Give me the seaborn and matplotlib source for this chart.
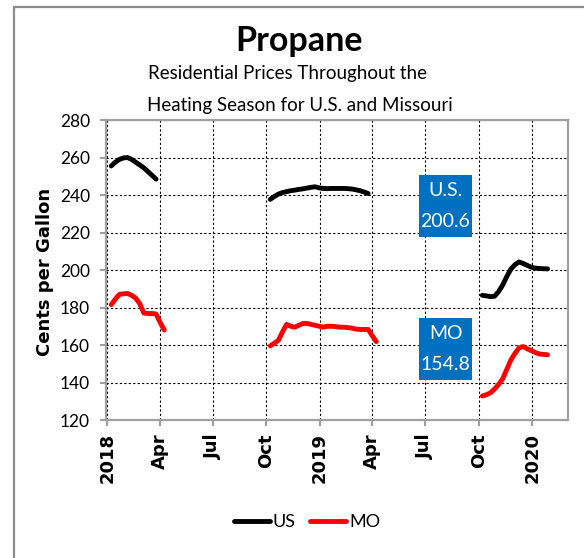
import pandas as pd
import numpy as np
import seaborn as sns
import matplotlib.pyplot as plt
from matplotlib.lines import Line2D
from matplotlib.patches import Rectangle

# weekly residential propane prices, cents per gallon
us_2018_dates = pd.date_range("2018-01-08", "2018-03-26", freq="7D")
us_2018 = [255.5, 257.5, 259.0, 259.8, 260.0, 259.0, 257.5, 256.0, 254.5, 252.5, 250.5, 248.5]
mo_2018_dates = pd.date_range("2018-01-08", "2018-04-09", freq="7D")
mo_2018 = [181.5, 184.5, 187.0, 187.3, 187.5, 186.5, 185.0, 182.0, 177.0, 176.8, 176.8, 176.5, 172.0, 168.0]

us_2019_dates = pd.date_range("2018-10-08", "2019-03-25", freq="7D")
us_2019 = [237.7, 239.2, 240.5, 241.3, 241.8, 242.3, 242.6, 243.0, 243.3, 243.7, 244.1, 244.4, 243.8,
           243.5, 243.4, 243.5, 243.5, 243.5, 243.5, 243.4, 243.2, 242.8, 242.3, 241.6, 240.8]
mo_2019_dates = pd.date_range("2018-10-08", "2019-04-08", freq="7D")
mo_2019 = [159.5, 161.0, 162.5, 167.0, 171.0, 170.0, 169.5, 170.5, 171.5, 171.5, 171.0, 170.5, 170.0, 169.5,
           170.0, 170.0, 169.8, 169.5, 169.5, 169.3, 169.0, 168.5, 168.3, 168.3, 168.3, 165.0, 161.8]

us_2020_dates = pd.date_range("2019-10-07", "2020-01-27", freq="7D")
us_2020 = [186.5, 186.2, 185.8, 186.0, 188.5, 192.0, 196.5, 200.5, 202.8, 204.3, 203.5, 202.5, 201.5,
           201.0, 200.8, 200.7, 200.6]
mo_2020_dates = pd.date_range("2019-10-07", "2020-01-27", freq="7D")
mo_2020 = [132.8, 133.5, 134.5, 136.5, 139.0, 142.0, 147.0, 152.0, 155.5, 158.5, 159.2, 158.0, 157.0,
           156.0, 155.2, 155.0, 154.8]

tick_dates = pd.to_datetime(["2018-01-01", "2018-04-01", "2018-07-01", "2018-10-01", "2019-01-01",
                             "2019-04-01", "2019-07-01", "2019-10-01", "2020-01-01"])
tick_labels = ["2018", "Apr", "Jul", "Oct", "2019", "Apr", "Jul", "Oct", "2020"]
us_latest = 200.6
mo_latest = 154.8

frames = []
for series, season, dates, vals in [
    ("US", 1, us_2018_dates, us_2018), ("MO", 1, mo_2018_dates, mo_2018),
    ("US", 2, us_2019_dates, us_2019), ("MO", 2, mo_2019_dates, mo_2019),
    ("US", 3, us_2020_dates, us_2020), ("MO", 3, mo_2020_dates, mo_2020),
]:
    frames.append(pd.DataFrame({"Date": dates, "Price": vals, "Series": series, "Season": season}))
df = pd.concat(frames, ignore_index=True)

sns.set_style("white")
plt.rcParams["text.color"] = "black"
plt.rcParams["xtick.color"] = "black"
plt.rcParams["ytick.color"] = "black"
plt.rcParams["axes.labelcolor"] = "black"
calib = ["Lato", "DejaVu Sans"]
grey = "#a0a0a0"

fig = plt.figure(figsize=(5.84, 5.58), dpi=100)
ax = fig.add_axes([0.1815, 0.2473, 0.791, 0.5376])

sns.lineplot(data=df, x="Date", y="Price", hue="Series", units="Season", estimator=None,
             hue_order=["US", "MO"], palette={"US": "black", "MO": "red"},
             linewidth=3.5, ax=ax)

ax.set_xlim(pd.Timestamp("2017-12-30"), pd.Timestamp("2020-03-02"))
ax.set_ylim(120, 280)
ax.set_yticks(range(120, 281, 20))
ax.set_xticks(tick_dates)
ax.set_xticklabels(tick_labels, rotation=90, fontsize=13, fontweight="bold", family="DejaVu Sans")
for lab in ax.get_yticklabels():
    lab.set_family(calib)
    lab.set_fontsize(12.5)
ax.set_xlabel("")
ax.set_ylabel("Cents per Gallon", fontsize=13, fontweight="bold", family="DejaVu Sans")
ax.yaxis.set_label_coords(-0.112, 0.493)

ax.grid(True, color="black", linestyle=(0, (2, 2)), linewidth=0.8)
for sp in ax.spines.values():
    sp.set_color(grey)
    sp.set_linewidth(1.6)
ax.tick_params(axis="both", direction="out", length=4.5, width=1.5, color=grey, left=True, bottom=True)
ax.tick_params(axis="y", pad=7)
ax.tick_params(axis="x", pad=5)

# value boxes
for label, val, top, bottom in [("U.S.", us_latest, 0.8167, 0.61), ("MO", mo_latest, 0.34, 0.1333)]:
    ax.add_patch(Rectangle((0.6775, bottom), 0.1147, top - bottom, transform=ax.transAxes,
                           facecolor="#0070c0", edgecolor="none", zorder=5))
    mid = (top + bottom) / 2
    ax.text(0.735, mid + 0.052, label, transform=ax.transAxes, ha="center", va="center",
            color="white", fontsize=14, family=calib, zorder=6)
    ax.text(0.735, mid - 0.052, f"{val:.1f}", transform=ax.transAxes, ha="center", va="center",
            color="white", fontsize=14, family=calib, zorder=6)

# titles
fig.text(299 / 584, 1 - 41 / 558, "Propane", ha="center", va="center", fontsize=24.5,
         fontweight="bold", family=calib)
fig.text(288 / 584, 1 - 73 / 558, "Residential Prices Throughout the", ha="center", va="center",
         fontsize=13.5, family=calib)
fig.text(300 / 584, 1 - 106 / 558, "Heating Season for U.S. and Missouri", ha="center", va="center",
         fontsize=13.5, family=calib)

# legend at bottom
handles, labels = ax.get_legend_handles_labels()
ax.get_legend().remove()
fig.legend(handles, labels, loc="center", bbox_to_anchor=(307 / 584, 1 - 522 / 558), ncol=2,
           frameon=False, handlelength=2.0, handletextpad=0.15, columnspacing=0.8,
           prop={"family": calib, "size": 13}, borderpad=0)

# outer frame (left and top edges)
fig.add_artist(Line2D([14 / 584, 14 / 584], [0, 1 - 7 / 558], transform=fig.transFigure,
                      color="#8c8c8c", linewidth=1.6))
fig.add_artist(Line2D([14 / 584, 1], [1 - 7 / 558, 1 - 7 / 558], transform=fig.transFigure,
                      color="#8c8c8c", linewidth=1.6))

fig.savefig("out.png", dpi=100)
